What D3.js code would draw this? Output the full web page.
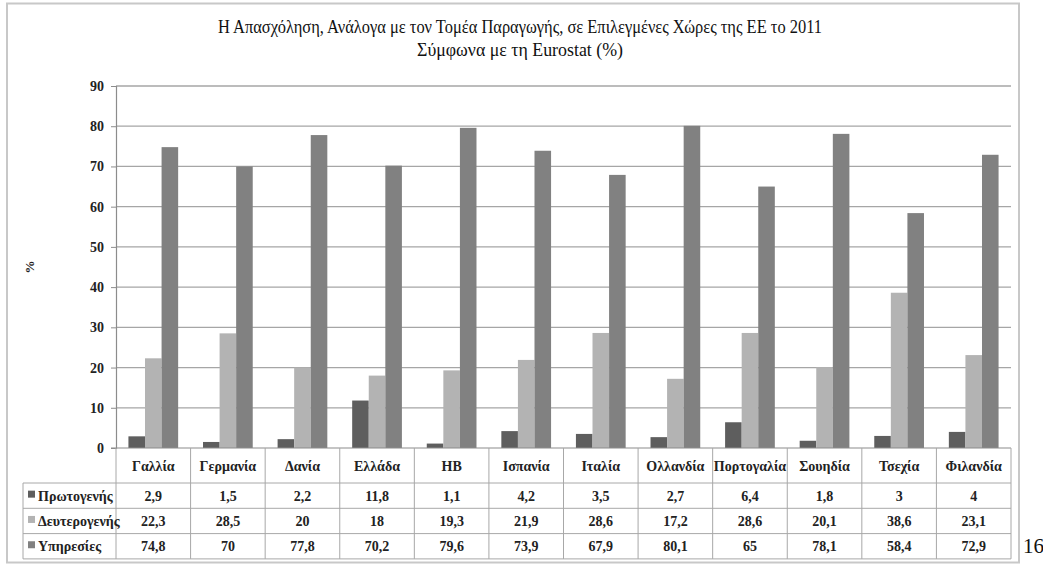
<!DOCTYPE html>
<html><head><meta charset="utf-8">
<script src="https://cdn.jsdelivr.net/npm/d3@7"></script>
<style>
html,body{margin:0;padding:0;background:#fff;}
</style></head>
<body>
<svg id="chart" width="1043" height="566"></svg>
<script>
const categories = ["Γαλλία","Γερμανία","Δανία","Ελλάδα","HB","Ισπανία","Ιταλία","Ολλανδία","Πορτογαλία","Σουηδία","Τσεχία","Φιλανδία"];
const seriesNames = ["Πρωτογενής","Δευτερογενής","Υπηρεσίες"];
const primary = [2.9,1.5,2.2,11.8,1.1,4.2,3.5,2.7,6.4,1.8,3,4];
const secondary = [22.3,28.5,20,18,19.3,21.9,28.6,17.2,28.6,20.1,38.6,23.1];
const services = [74.8,70,77.8,70.2,79.6,73.9,67.9,80.1,65,78.1,58.4,72.9];
const yTicks = [0,10,20,30,40,50,60,70,80,90];
const titleLines = ["Η Απασχόληση, Ανάλογα με τον Τομέα Παραγωγής, σε Επιλεγμένες Χώρες της ΕΕ το 2011","Σύμφωνα με τη Eurostat (%)"];
const yLabel = "%";
const pageNumber = "16";

(function(){
const FONT = "'Liberation Serif', 'DejaVu Serif', serif";
const seriesValues = [primary, secondary, services];
const colors = ["#5e5e5e","#b3b3b3","#818181"];

const svg = d3.select("#chart").attr("font-family", FONT);
svg.append("rect").attr("x",7).attr("y",3.5).attr("width",1012).attr("height",559)
  .attr("fill","#fff").attr("stroke","#c8c8c8").attr("stroke-width",2);

const titleW = [604, 206];
titleLines.forEach((t,i)=>{
  svg.append("text").attr("x",520).attr("y",33+i*23).attr("text-anchor","middle")
    .attr("font-family",FONT).attr("font-size",18).attr("fill","#111")
    .attr("textLength",titleW[i]).attr("lengthAdjust","spacingAndGlyphs").text(t);
});

const pLeft = 116, pRight = 1011, pTop = 86, pBottom = 448;
const x0 = d3.scaleBand().domain(categories).range([pLeft,pRight]).padding(0);
const bw = x0.bandwidth();
const groupW = bw*3/4.5;
const x1 = d3.scaleBand().domain(seriesNames).range([(bw-groupW)/2,(bw+groupW)/2]).padding(0);
const y = d3.scaleLinear().domain([0,90]).range([pBottom,pTop]);

svg.append("g").selectAll("line").data(yTicks.filter(d=>d>0)).join("line")
  .attr("x1",pLeft).attr("x2",pRight).attr("y1",d=>y(d)).attr("y2",d=>y(d))
  .attr("stroke","#a6a6a6").attr("stroke-width",1.3);

const yAxis = d3.axisLeft(y).tickValues(yTicks).tickSize(5).tickPadding(7);
const ya = svg.append("g").attr("transform",`translate(${pLeft},0)`).call(yAxis)
  .attr("font-family",FONT);
ya.select(".domain").attr("stroke","#8c8c8c").attr("stroke-width",1.2);
ya.selectAll(".tick line").attr("stroke","#8c8c8c");
ya.selectAll(".tick text").attr("font-family",FONT).attr("font-weight","bold")
  .attr("font-size",14).attr("fill","#222");

svg.append("text").attr("transform","translate(34,267) rotate(-90)").attr("text-anchor","middle")
  .attr("font-family",FONT).attr("font-size",13).attr("font-weight","bold").attr("fill","#222").text(yLabel);

const gCat = svg.append("g").selectAll("g").data(categories).join("g")
  .attr("transform",d=>`translate(${x0(d)},0)`);
gCat.selectAll("rect").data((c,ci)=>seriesNames.map((s,si)=>({s,si,v:seriesValues[si][ci]}))).join("rect")
  .attr("x",d=>x1(d.s)).attr("width",x1.bandwidth())
  .attr("y",d=>y(d.v)).attr("height",d=>y(0)-y(d.v))
  .attr("fill",d=>colors[d.si]);

svg.append("line").attr("x1",pLeft-5).attr("x2",pRight).attr("y1",pBottom).attr("y2",pBottom)
  .attr("stroke","#8c8c8c").attr("stroke-width",1.2);

const tblLeft = 23, hdrBottom = 483, rowH = 25.3;
const tableBottom = hdrBottom + rowH*3;
const tline = "#a8a8a8";
const tg = svg.append("g").attr("font-family",FONT);
[hdrBottom, hdrBottom+rowH, hdrBottom+2*rowH, tableBottom].forEach(yy=>{
  tg.append("line").attr("x1",tblLeft).attr("x2",pRight).attr("y1",yy).attr("y2",yy).attr("stroke",tline);
});
tg.append("line").attr("x1",tblLeft).attr("x2",tblLeft).attr("y1",hdrBottom).attr("y2",tableBottom).attr("stroke",tline);
const seps = categories.map(c=>x0(c)).concat([pRight]);
tg.selectAll("line.sep").data(seps).join("line").attr("class","sep")
  .attr("x1",d=>d).attr("x2",d=>d).attr("y1",pBottom).attr("y2",tableBottom).attr("stroke",tline);

tg.selectAll("text.hdr").data(categories).join("text").attr("class","hdr")
  .attr("x",d=>x0(d)+bw/2).attr("y",(pBottom+hdrBottom)/2+5).attr("text-anchor","middle")
  .attr("font-size",14).attr("font-weight","bold").attr("fill","#222").text(d=>d);

seriesNames.forEach((s,si)=>{
  const cy = hdrBottom + rowH*si + rowH/2;
  tg.append("rect").attr("x",28).attr("y",cy-5).attr("width",7).attr("height",7).attr("fill",colors[si]);
  tg.append("text").attr("x",38).attr("y",cy+5).attr("font-size",14).attr("font-weight","bold")
    .attr("fill","#222").text(s);
  tg.selectAll("text.v"+si).data(categories).join("text").attr("class","v"+si)
    .attr("x",d=>x0(d)+bw/2).attr("y",cy+5).attr("text-anchor","middle")
    .attr("font-size",14).attr("font-weight","bold").attr("fill","#222")
    .text((d,ci)=>String(seriesValues[si][ci]).replace(".",","));
});

svg.append("text").attr("x",1023).attr("y",553).attr("font-family",FONT).attr("font-size",21).attr("fill","#111").text(pageNumber);
})();
</script>
</body></html>
